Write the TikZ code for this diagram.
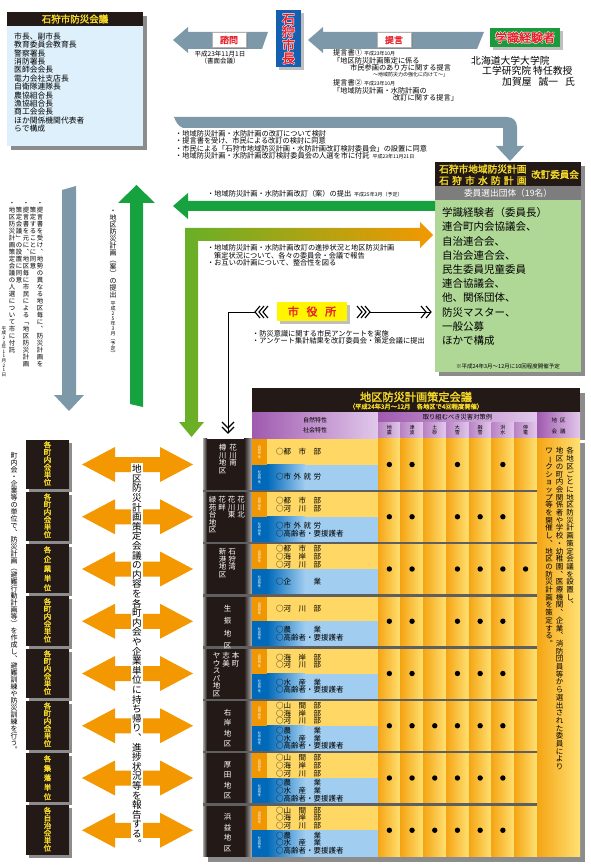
\documentclass[tikz,border=0pt]{standalone}
\usepackage{fontspec}
\setmainfont{Noto Sans CJK JP}[AutoFakeBold=2]
\usetikzlibrary{positioning,shadows}

\definecolor{hdrblack}{RGB}{35,25,22}
\definecolor{hdryellow}{RGB}{246,218,40}
\definecolor{titlered}{RGB}{230,30,40}
\definecolor{boxblue}{RGB}{222,240,251}
\definecolor{arrgray}{RGB}{125,152,168}
\definecolor{arrgreen}{RGB}{22,162,62}
\definecolor{kgreen}{RGB}{25,155,60}
\definecolor{lgreen}{RGB}{100,176,40}
\definecolor{arrorange}{RGB}{243,152,0}
\definecolor{iinkai}{RGB}{175,215,150}
\definecolor{stripgray}{RGB}{125,125,125}
\definecolor{mayorblue}{RGB}{20,95,175}
\definecolor{syellow}{RGB}{255,245,0}
\definecolor{shadowgray}{RGB}{140,140,140}
\definecolor{purpled}{RGB}{160,90,175}
\definecolor{purplel}{RGB}{225,200,235}
\definecolor{cellorange}{RGB}{255,215,100}
\definecolor{stripeorange}{RGB}{240,150,0}
\definecolor{cellblue}{RGB}{160,205,240}
\definecolor{stripeblue}{RGB}{0,105,185}
\definecolor{colorange}{RGB}{245,165,20}
\definecolor{colyellow}{RGB}{255,225,115}
\definecolor{sepgray}{RGB}{95,95,95}

% vertical text, one character per cell
\newdimen\tatepitch
\makeatletter
\newcommand\tate[2][1em]{\tatepitch=#1\relax\vbox{\offinterlineskip\tate@loop#2\@nil}}
\def\tate@loop#1{\ifx#1\@nil\else\tate@char{#1}\expandafter\tate@loop\fi}
\def\tate@char#1{\hbox to 1em{\vrule height .88\tatepitch depth .12\tatepitch width 0pt\hss\smash{\tate@glyph{#1}}\hss}}
\def\tate@glyph#1{%
  \ifx#1、︑\else
  \ifx#1。︒\else
  \ifx#1（︵\else
  \ifx#1）︶\else
  \ifx#1「﹁\else
  \ifx#1」﹂\else
  \in@{#1}{ー～}\ifin@\rotatebox[origin=c]{-90}{#1}\else#1\fi
  \fi\fi\fi\fi\fi\fi}
\newcommand\tatex[1]{\expandafter\tate\expandafter{#1}}
\makeatother
% white rim round a red title
\newcommand\rim[2][.5pt]{{\leavevmode
  \rlap{\color{white}\kern#1#2}\rlap{\color{white}\kern-#1#2}%
  \rlap{\color{white}\raisebox{#1}{#2}}\rlap{\color{white}\raisebox{-#1}{#2}}#2}}
\newcommand\datefont{\fontsize{5}{5}\selectfont}

\begin{document}
\begin{tikzpicture}[x=1pt,y=-1pt,
  txt/.style={inner sep=0pt,anchor=west,font=\fontsize{7.2}{8}\selectfont},
  hdr/.style={inner sep=0pt,text=hdryellow,font=\bfseries\fontsize{9.5}{10}\selectfont},
  lbl/.style={draw=gray!60,fill=white,text=titlered,inner sep=0pt,minimum width=34pt,minimum height=15pt,
    font=\bfseries\fontsize{9}{9}\selectfont,drop shadow={shadow xshift=2pt,shadow yshift=-2pt}},
  tatetxt/.style={inner sep=0pt,anchor=north},
  cell/.style={inner sep=0pt,anchor=west,align=left,font=\fontsize{7.5}{7.6}\selectfont},
  dist/.style={inner sep=0pt,anchor=north,text=white,font=\fontsize{7.5}{7.5}\selectfont},
  unit/.style={inner sep=0pt,text=hdryellow,font=\bfseries\fontsize{7.5}{7.5}\selectfont},
  chev/.style={line width=1.1pt},
  link/.style={line width=1pt}]
\useasboundingbox (0,0) rectangle (590,866);

% 石狩市防災会議
\fill[shadowgray] (11,16) rectangle (147,150);
\fill[hdrblack] (7,12) rectangle (143,26);
\node[hdr] (bousaikaigi) at (75,19) {石狩市防災会議};
\fill[boxblue] (7,26) rectangle (143,146);
\node[txt,anchor=north west,align=left,font=\fontsize{7.8}{8.4}\selectfont] (members) at (14,32.5)
  {市長、副市長\\教育委員会教育長\\警察署長\\消防署長\\医師会会長\\電力会社支店長\\自衛隊連隊長\\農協組合長\\漁協組合長\\商工会会長\\ほか関係機関代表者\\らで構成};

% 諮問
\fill[arrgray] (173,40) -- (188,27) -- (188,32) -- (268,32) -- (262,49) -- (188,49) -- (188,53) -- cycle;
\node[lbl] (shimon) at (229,40) {諮問};
\node[inner sep=0pt,anchor=north,align=center,font=\fontsize{6.5}{7.8}\selectfont] (shimondate) at (220,50.5) {平成23年11月1日\\（書面会議）};

% 石狩市長
\node[fill=mayorblue,text=titlered,font=\bfseries\fontsize{13}{13}\selectfont,minimum width=25pt,minimum height=57pt,
  inner sep=0pt,drop shadow={shadow xshift=3pt,shadow yshift=-3pt}] (mayor) at (288.5,38.5) {\rim{\tate{石狩市長}}};

% 提言
\fill[arrgray] (308,40) -- (323,27) -- (323,32) -- (484,32) -- (477,49) -- (323,49) -- (323,53) -- cycle;
\node[lbl] (teigen) at (394,40) {提言};

% 学識経験者
\node[fill=kgreen,text=titlered,font=\bfseries\fontsize{12}{12}\selectfont,minimum width=70pt,minimum height=19pt,
  inner sep=0pt,drop shadow={shadow xshift=3pt,shadow yshift=-3pt}] (gakushiki) at (525,37.5) {\rim{学識経験者}};
\node[txt,font=\fontsize{9.8}{10}\selectfont] (hokudai) at (471,60.5) {北海道大学大学院};
\node[txt,font=\fontsize{9.8}{10}\selectfont] (kogaku) at (482,71) {工学研究院\hspace{2pt}特任教授};
\node[txt,font=\fontsize{9.8}{10}\selectfont] (kagaya) at (502,81.5) {加賀屋\hspace{7pt}誠一\hspace{7pt}氏};

\node[txt] (teigen1) at (333,53) {提言書①\hspace{2pt}{\datefont 平成23年10月}};
\node[txt] (teigen1a) at (333,60.5) {「地区防災計画策定に係る};
\node[txt] (teigen1b) at (350,68) {市民参画のあり方に関する提言};
\node[txt,font=\datefont] (teigen1c) at (373,75) {～地域防災力の強化に向けて～」};
\node[txt] (teigen2) at (333,83) {提言書②\hspace{2pt}{\datefont 平成23年10月}};
\node[txt] (teigen2a) at (333,90.5) {「地域防災計画・水防計画の};
\node[txt] (teigen2b) at (393,98) {改訂に関する提言」};

% gray bent arrow
\fill[arrgray] (174,117) -- (507,117) .. controls (513,117) and (517,121) .. (517,127) -- (517,146) -- (524,146)
  -- (510,161) -- (496,146) -- (503,146) -- (503,128) -- (183,128) .. controls (178,126) and (176,122) .. (174,117) -- cycle;
\node[txt] (kentou1) at (175,133.5) {・地域防災計画・水防計画の改訂について検討};
\node[txt] (kentou2) at (175,141) {・提言書を受け、市民による改訂の検討に同意};
\node[txt] (kentou3) at (175,148.5) {・市民による「石狩市地域防災計画・水防計画改訂検討委員会」の設置に同意};
\node[txt] (kentou4) at (175,156) {・地域防災計画・水防計画改訂検討委員会の人選を市に付託\hspace{3pt}{\datefont 平成23年11月21日}};

% 改訂委員会
\fill[shadowgray] (439,166) rectangle (585,376);
\fill[hdrblack] (435,162) rectangle (581,186);
\node[hdr,anchor=west,font=\bfseries\fontsize{9.7}{10}\selectfont] (kaitei1) at (439,169) {石狩市地域防災計画};
\node[hdr,anchor=west,font=\bfseries\fontsize{9.7}{10}\selectfont] (kaitei2) at (439,180.5) {\hbox to 9em{石\hfil 狩\hfil 市\hfil 水\hfil 防\hfil 計\hfil 画}};
\node[hdr,anchor=east,font=\bfseries\fontsize{9.5}{10}\selectfont] (kaitei3) at (579,174.5) {改訂委員会};
\fill[stripgray] (435,186) rectangle (581,200);
\node[inner sep=0pt,text=white,font=\fontsize{8.7}{9}\selectfont] (senshutsu) at (508,193) {委員選出団体（19名）};
\fill[iinkai] (435,200) rectangle (581,372);
\node[txt,anchor=north west,align=left,font=\fontsize{10.5}{14.2}\selectfont] (iin) at (442,207.5)
  {学識経験者（委員長）\\連合町内会協議会、\\自治連合会、\\自治会連合会、\\民生委員児童委員\\連合協議会、\\他、関係団体、\\防災マスター、\\一般公募\\ほかで構成};
\node[inner sep=0pt,font=\fontsize{5.5}{6}\selectfont] (kaisai) at (508,366) {※平成24年3月～12月に10回程度開催予定};

% green arrow
\fill[arrgreen] (173,206) -- (188,193) -- (188,201) -- (435,201) -- (435,211) -- (188,211) -- (188,219) -- cycle;
\node[txt] (kaiteian) at (207,194) {・地域防災計画・水防計画改訂（案）の提出\hspace{3pt}{\datefont 平成25年3月（予定）}};

% green-orange arrow
\shade[left color=lgreen,right color=arrorange] (185,228) -- (420,228) -- (420,222) -- (433,235) -- (420,248) -- (420,241)
  -- (198,241) -- (198,422) -- (204,422) -- (191.5,437) -- (179,422) -- (185,422) -- cycle;
\node[txt] (houkoku1) at (207,248) {・地域防災計画・水防計画改訂の進捗状況と地区防災計画};
\node[txt] (houkoku2) at (214,255.5) {策定状況について、各々の委員会・会議で報告};
\node[txt] (houkoku3) at (207,263) {・お互いの計画について、整合性を図る};

% 市役所
\node[fill=syellow,text=titlered,font=\bfseries\fontsize{11}{11}\selectfont,minimum width=70pt,minimum height=19pt,
  inner sep=0pt,drop shadow={shadow xshift=3pt,shadow yshift=-3pt}] (shiyakusho) at (312,311.5) {市\hspace{.7em}役\hspace{.7em}所};
\coordinate (sy-w) at (255,312);
\coordinate (sy-e) at (370,312);
\coordinate (sy-r) at (431,312);
\coordinate (sy-d) at (228,433);
\draw[link] (sy-w) -| (sy-d);
\draw[link] (sy-e) -- (sy-r);
\foreach \t in {255,259,263} \draw[chev] (\t+5,306) -- (\t,312) -- (\t+5,318);
\foreach \t in {362,366,370} \draw[chev] (\t-5,306) -- (\t,312) -- (\t-5,318);
\foreach \t in {426,431} \draw[chev] (\t-5,306) -- (\t,312) -- (\t-5,318);
\foreach \t in {428,433} \draw[chev] (222,\t-6) -- (228,\t) -- (234,\t-6);
\node[txt] (anketo1) at (252,333.5) {・防災意識に関する市民アンケートを実施};
\node[txt] (anketo2) at (252,341) {・アンケート集計結果を改訂委員会・策定会議に提出};

% left vertical arrows
\fill[arrgray] (62,190) -- (76,186) -- (76,395) -- (84,395) -- (69,411) -- (54,395) -- (62,395) -- cycle;
\fill[arrgreen] (136.5,185) -- (155,203) -- (143,203) -- (143,407) -- (130,404) -- (130,203) -- (118,203) -- cycle;
\node[tatetxt,font=\fontsize{6.4}{7}\selectfont] (doui1) at (40,199) {\tate[7pt]{・提言書を受け、地勢の異なる地区毎に、防災計画を}};
\node[tatetxt,font=\fontsize{6.4}{7}\selectfont] (doui2) at (33,206) {\tate[7pt]{策定することに同意}};
\node[tatetxt,font=\fontsize{6.4}{7}\selectfont] (doui3) at (26,199) {\tate[7pt]{・提言書を元に、地区毎に市民による「地区防災計画}};
\node[tatetxt,font=\fontsize{6.4}{7}\selectfont] (doui4) at (19,206) {\tate[7pt]{策定会議」の設置に同意}};
\node[tatetxt,font=\fontsize{6.4}{7}\selectfont] (doui5) at (12,199) {\tate[7pt]{・地区防災計画策定会議の人選について市に付託}};
\node[inner sep=0pt,anchor=south,font=\fontsize{4.6}{4.6}\selectfont] (douidate) at (4,377) {\tate{平成23年11月21日}};
\node[tatetxt,font=\fontsize{7}{7}\selectfont] (teishutsu) at (113,207) {\tate{・地区防災計画（案）の提出}};
\node[tatetxt,font=\datefont,below=2pt of teishutsu] (teishutsudate) {\tate{平成25年3月（予定）}};

% 地区防災計画策定会議
\fill[shadowgray] (257,393) rectangle (585,440);
\fill[shadowgray] (208,443) rectangle (585,862);
\fill[hdrblack] (252,388) rectangle (580,412);
\node[hdr,font=\bfseries\fontsize{11.2}{12}\selectfont] (sakutei) at (416,397) {地区防災計画策定会議};
\node[hdr,font=\bfseries\fontsize{6.3}{7}\selectfont] (sakuteisub) at (416,406.5) {（平成24年3月～12月　各地区で4回程度開催）};
\shade[left color=purpled,right color=purplel] (252,412) rectangle (378,438);
\node[inner sep=0pt,font=\fontsize{6}{6}\selectfont] (shizenh) at (315,420.5) {自然特性};
\node[inner sep=0pt,font=\fontsize{6}{6}\selectfont] (shakaih) at (315,430) {社会特性};
\shade[left color=purpled,right color=purplel] (378,412) rectangle (537,422.5);
\node[inner sep=0pt,font=\fontsize{6.3}{6.3}\selectfont] (torikumi) at (457.5,417.3) {取り組むべき災害対策例};
\foreach \c/\lab in {1/地震,2/津波,3/土砂,4/大雪,5/融雪,6/洪水,7/停電}{
  \shade[left color=purpled!75,right color=purplel] (378+22.7*\c-22.7,422.5) rectangle (378+22.7*\c,438);
  \node[inner sep=0pt,font=\fontsize{5}{5}\selectfont] (saigai\c) at (378+22.7*\c-11.35,430.2) {\tatex{\lab}};
}
\shade[left color=purpled,right color=purplel] (537,412) rectangle (580,438);
\node[inner sep=0pt,font=\fontsize{5.5}{5.5}\selectfont] (chikuh) at (558.5,420) {地\hspace{3pt}区};
\node[inner sep=0pt,font=\fontsize{5.5}{5.5}\selectfont] (kaigih) at (558.5,431) {会\hspace{3pt}議};

\foreach \c in {0,...,6}
  \shade[left color=colorange,right color=colyellow] (378+22.7*\c,438) rectangle (378+22.7*\c+22.7,856.5);
\shade[left color=colorange,right color=colyellow] (537,438) rectangle (580,856.5);

\foreach \i in {0,...,7}{
  \pgfmathsetmacro\rowtop{438.5+52.25*\i}
  \pgfmathsetmacro\rowmid{\rowtop+26}
  \pgfmathsetmacro\rowbot{\rowtop+52.25}
  \fill[hdrblack] (203,\rowtop) rectangle (252,\rowbot);
  \shade[left color=gray!70,right color=hdrblack] (203,\rowtop) rectangle (207,\rowbot);
  \shade[left color=hdrblack,right color=gray!60] (244,\rowtop) rectangle (252,\rowbot);
  \fill[cellorange] (252,\rowtop) rectangle (378,\rowmid);
  \fill[stripeorange] (252,\rowtop) rectangle (267,\rowmid);
  \fill[cellblue] (252,\rowmid) rectangle (378,\rowbot);
  \shade[left color=stripeblue,right color=cellblue] (267,\rowmid) rectangle (305,\rowbot);
  \fill[stripeblue] (252,\rowmid) rectangle (267,\rowbot);
  \node[inner sep=0pt,text=white,font=\fontsize{3.2}{3.2}\selectfont] (shizen\i) at (259.5,\rowtop+13.6) {\tate{自然特性}};
  \node[inner sep=0pt,text=white,font=\fontsize{3.2}{3.2}\selectfont] (shakai\i) at (259.5,\rowmid+12.6) {\tate{社会特性}};
  \fill[shadowgray] (29,\rowtop+4) rectangle (72,\rowbot+1);
  \fill[hdrblack] (26,\rowtop+1) rectangle (69,\rowbot-2);
  \fill[arrorange] (82,\rowmid) -- (115,\rowmid-17.5) -- (115,\rowmid-7.5) -- (160,\rowmid-7.5) -- (160,\rowmid-17.5)
    -- (193,\rowmid) -- (160,\rowmid+17.5) -- (160,\rowmid+7.5) -- (115,\rowmid+7.5) -- (115,\rowmid+17.5) -- cycle;
}
\foreach \i in {1,...,7}
  \draw[sepgray,line width=2.5pt] (203,438.5+52.25*\i) -- (537,438.5+52.25*\i);

% dots
\foreach \i/\cols in {0/{1,2,4,6},1/{1,2,4,5,6},2/{1,2,4,5,6,7},3/{1,2,4,5,6},4/{1,2,4,5,6},5/{1,...,6},6/{1,...,6},7/{1,...,6}}{
  \foreach \c in \cols {\fill (378+22.7*\c-11.35,464.5+52.25*\i) circle[radius=2.7pt];}
}

% districts
\node[dist] (d1a) at (233,444) {\tate{花川南}};
\node[dist] (d1b) at (222.5,444) {\tate{樽川地区}};
\node[dist] (d2a) at (241,496) {\tate{花川北}};
\node[dist] (d2b) at (231.5,496) {\tate{花川東}};
\node[dist] (d2c) at (222,496) {\tate{花畔}};
\node[dist] (d2d) at (212.5,496) {\tate{緑苑台地区}};
\node[dist] (d3a) at (232,548) {\tate{石狩湾}};
\node[dist] (d3b) at (222.5,548) {\tate{新港地区}};
\node[dist] (d4) at (227.5,600) {\tate[12.5pt]{生振地区}};
\node[dist] (d5a) at (235.5,652) {\tate{本町}};
\node[dist] (d5b) at (226,652) {\tate{志美}};
\node[dist] (d5c) at (216.5,652) {\tate{ヤウスパ地区}};
\node[dist] (d6) at (227.5,706) {\tate[10.5pt]{右岸地区}};
\node[dist] (d7) at (227.5,758) {\tate[10.5pt]{厚田地区}};
\node[dist] (d8) at (227.5,810.5) {\tate[10.5pt]{浜益地区}};

% features
\node[cell] (o1) at (276,452.1) {○都　市　部};
\node[cell] (b1) at (276,477.1) {○市\hspace{2.5pt}外\hspace{2.5pt}就\hspace{2.5pt}労};
\node[cell] (o2) at (276,504.4) {○都　市　部\\○河　川　部};
\node[cell] (b2) at (276,529.4) {○市\hspace{2.5pt}外\hspace{2.5pt}就\hspace{2.5pt}労\\○高齢者・要援護者};
\node[cell] (o3) at (276,556.6) {○都　市　部\\○海　岸　部\\○河　川　部};
\node[cell] (b3) at (276,581.6) {○企　　　業};
\node[cell] (o4) at (276,608.9) {○河　川　部};
\node[cell] (b4) at (276,633.9) {○農　　　業\\○高齢者・要援護者};
\node[cell] (o5) at (276,661.1) {○海　岸　部\\○河　川　部};
\node[cell] (b5) at (276,686.1) {○水　産　業\\○高齢者・要援護者};
\foreach \i in {5,6,7}{
  \node[cell] (o\i) at (276,713.4+52.25*\i-261.25) {○山　間　部\\○海　岸　部\\○河　川　部};
  \node[cell] (b\i) at (276,738.4+52.25*\i-261.25) {○農　　　業\\○水　産　業\\○高齢者・要援護者};
}

% 地区会議
\node[tatetxt,font=\fontsize{7.5}{7.5}\selectfont] (kaigi1) at (570,447) {\tate[7.7pt]{各地区ごとに地区防災計画策定会議を設置し、}};
\node[tatetxt,font=\fontsize{7.5}{7.5}\selectfont] (kaigi2) at (559.5,447) {\tate[7.7pt]{地区の町内会関係者や学校・幼稚園、医療機関、企業、消防団員等から選出された委員により}};
\node[tatetxt,font=\fontsize{7.5}{7.5}\selectfont] (kaigi3) at (549,447) {\tate[7.7pt]{ワークショップ等を開催し、地区の防災計画を策定する。}};

% units
\node[unit] (u1) at (47.5,463.5) {\tate{各町内会単位}};
\node[unit] (u2) at (47.5,515.75) {\tate{各町内会単位}};
\node[unit] (u3) at (47.5,568) {\tate[9.5pt]{各企業単位}};
\node[unit] (u4) at (47.5,620.25) {\tate{各町内会単位}};
\node[unit] (u5) at (47.5,672.5) {\tate{各町内会単位}};
\node[unit] (u6) at (47.5,724.75) {\tate{各町内会単位}};
\node[unit] (u7) at (47.5,777) {\tate[9.5pt]{各集落単位}};
\node[unit] (u8) at (47.5,829.25) {\tate{各自治会単位}};
\node[tatetxt,font=\fontsize{7}{7}\selectfont] (kakutani) at (14,452) {\tate{町内会・企業等の単位で、防災計画（避難行動計画等）を作成し、避難訓練や防災訓練を行う。}};
\node[tatetxt,fill=white,inner sep=1pt,font=\fontsize{9.6}{9.6}\selectfont] (mochikaeri) at (137,463)
  {\tate{地区防災計画策定会議の内容を各町内会や企業単位に持ち帰り、進捗状況等を報告する。}};
\end{tikzpicture}
\end{document}
